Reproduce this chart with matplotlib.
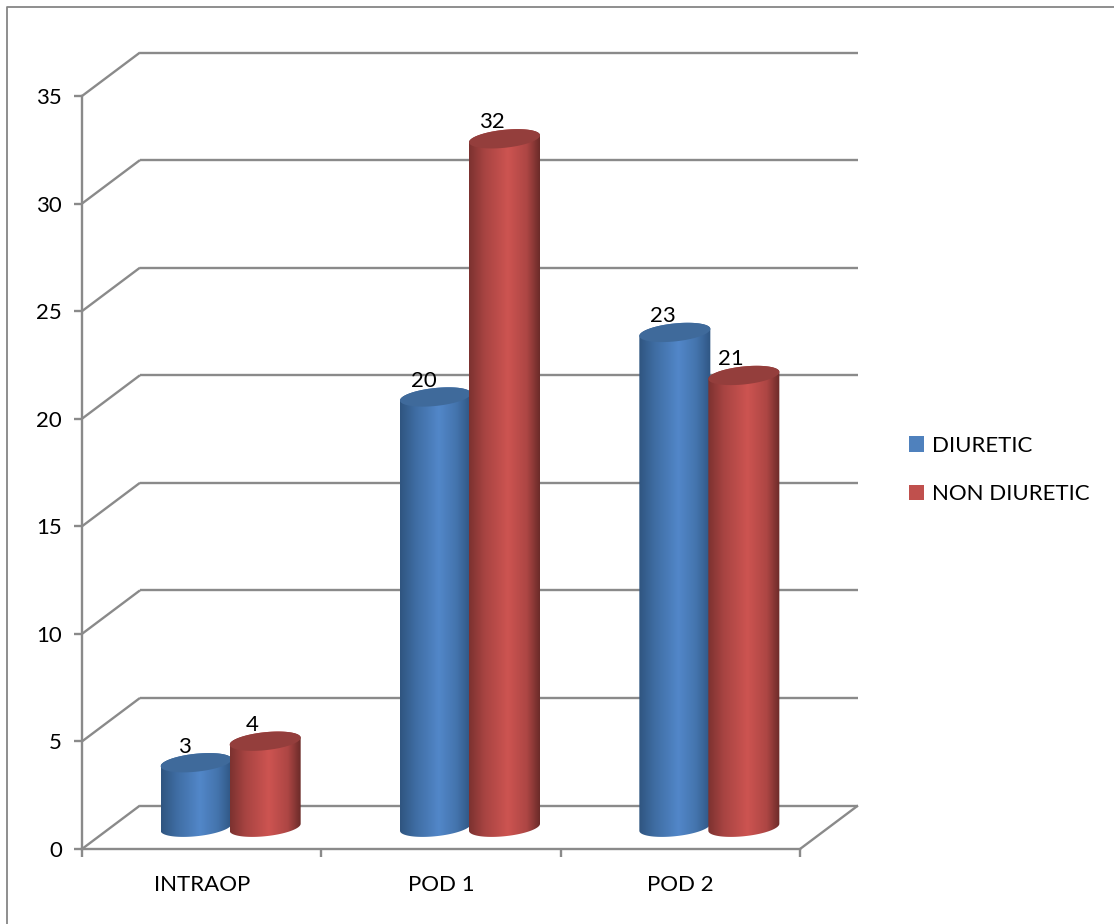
import numpy as np
import matplotlib
matplotlib.use("Agg")
import matplotlib.pyplot as plt
from matplotlib.colors import LinearSegmentedColormap
from matplotlib.patches import Patch, Polygon

categories = ["INTRAOP", "POD 1", "POD 2"]
diuretic = [3, 20, 23]
non_diuretic = [4, 32, 21]
series_names = ["DIURETIC", "NON DIURETIC"]
y_ticks = [0, 5, 10, 15, 20, 25, 30, 35]

W, H = 1114, 924
LEFT, RIGHT, TOP, BOTTOM = 82, 800, 96, 849
GRAY = "#8a8a8a"
FONT = "Lato"
FS = 16

plt.rcParams["font.family"] = [FONT, "DejaVu Sans"]
fig = plt.figure(figsize=(W / 100, H / 100), dpi=100, facecolor="white")
ax = fig.add_axes([LEFT / W, 1 - BOTTOM / H, (RIGHT - LEFT) / W, (BOTTOM - TOP) / H])
ax.patch.set_alpha(0)
xlim, ylim = (0, 3), (0, 35)

# pixel-to-data scale factors for the oblique projection
sx = (xlim[1] - xlim[0]) / (RIGHT - LEFT)
sy = (ylim[1] - ylim[0]) / (BOTTOM - TOP)
depth_x, depth_y = 58 * sx, 43.5 * sy


def wall_line(xs, ys, z=1):
    ax.plot(xs, ys, color=GRAY, lw=1.7, clip_on=False, zorder=z, solid_capstyle="butt")


# back wall gridlines, with the diagonal running forward to the value axis
for v in y_ticks:
    wall_line([depth_x, 3 + depth_x], [v + depth_y, v + depth_y])
    if v:
        wall_line([0, depth_x], [v, v + depth_y])
# floor outline
wall_line([0, depth_x], [0, depth_y])
wall_line([3, 3 + depth_x], [0, depth_y])

blue_cmap = LinearSegmentedColormap.from_list(
    "blue", [(0, "#2f5580"), (0.22, "#3f6da3"), (0.55, "#5287c9"), (0.8, "#4474ad"), (1, "#2f5683")])
red_cmap = LinearSegmentedColormap.from_list(
    "red", [(0, "#7c3230"), (0.22, "#a84442"), (0.55, "#cd5451"), (0.82, "#ad4644"), (1, "#6b2b29")])
shade = np.linspace(0, 1, 128).reshape(1, -1)

half_w = 35.5 * sx
minor, tilt = 9 * sy, 3.5 * sy
offset = 34.5 * sx


def rim(cx, cy, t):
    return np.column_stack([cx + half_w * np.cos(t), cy + minor * np.sin(t) + tilt * np.cos(t)])


def cylinder(cx, value, cmap, cap_color, z):
    base, top = depth_y / 2, value + depth_y / 2
    outline = np.vstack([rim(cx, top, np.linspace(0, np.pi, 60)),
                         rim(cx, base, np.linspace(np.pi, 2 * np.pi, 60))])
    body = Polygon(outline, closed=True, transform=ax.transData, fc="none", ec="none")
    ax.add_patch(body)
    img = ax.imshow(shade, cmap=cmap, aspect="auto", zorder=z, interpolation="bilinear",
                    extent=(cx - half_w, cx + half_w, base - 2, top + 2), clip_on=True)
    img.set_clip_path(body)
    cap = rim(cx, top, np.linspace(0, 2 * np.pi, 120))
    ax.add_patch(Polygon(cap, closed=True, fc=cap_color, ec="none", zorder=z + 0.1, clip_on=False))


label_shift = [(-11.5, 16), (-12.5, 16.5)]
for i, (d, n) in enumerate(zip(diuretic, non_diuretic)):
    center = i + 0.5 + depth_x / 2
    for j, (v, cmap, cap) in enumerate([(d, blue_cmap, "#3f6a9b"), (n, red_cmap, "#943e3c")]):
        cx = center + (j * 2 - 1) * offset
        cylinder(cx, v, cmap, cap, 3 + j + i * 2)
        ax.text(cx + label_shift[j][0] * sx, v + depth_y / 2 + label_shift[j][1] * sy, str(v),
                ha="center", va="center", fontsize=FS, color="black", zorder=12, clip_on=False)

ax.set_xlim(*xlim)
ax.set_ylim(*ylim)
ax.set_xticks([0, 1, 2, 3])
ax.set_xticklabels([])
ax.set_xticks([0.5, 1.5, 2.5], labels=categories, minor=True)
ax.set_yticks(y_ticks)
ax.tick_params(axis="both", which="major", color=GRAY, width=1.7, length=5.5, labelsize=FS, pad=9)
ax.tick_params(axis="x", which="minor", length=0, labelsize=FS, pad=19)
for side in ("top", "right"):
    ax.spines[side].set_visible(False)
for side in ("left", "bottom"):
    ax.spines[side].set_color(GRAY)
    ax.spines[side].set_linewidth(1.7)
    ax.spines[side].set_zorder(2)

# outer frame of the chart area: only the top and left edges are visible
fig.add_artist(plt.Line2D([7 / W, 7 / W, 1], [0, 1 - 7 / H, 1 - 7 / H],
                          color="#868686", lw=1.3, transform=fig.transFigure))

handles = [Patch(fc="#4f81bd", ec="none", label=series_names[0]),
           Patch(fc="#c0504d", ec="none", label=series_names[1])]
fig.legend(handles=handles, loc="center left", bbox_to_anchor=(902 / W, 1 - 470 / H), frameon=False,
           fontsize=FS, handlelength=0.68, handleheight=0.68, handletextpad=0.35,
           labelspacing=1.27, borderpad=0.3, borderaxespad=0)

fig.savefig("out.png", dpi=100, facecolor="white")
